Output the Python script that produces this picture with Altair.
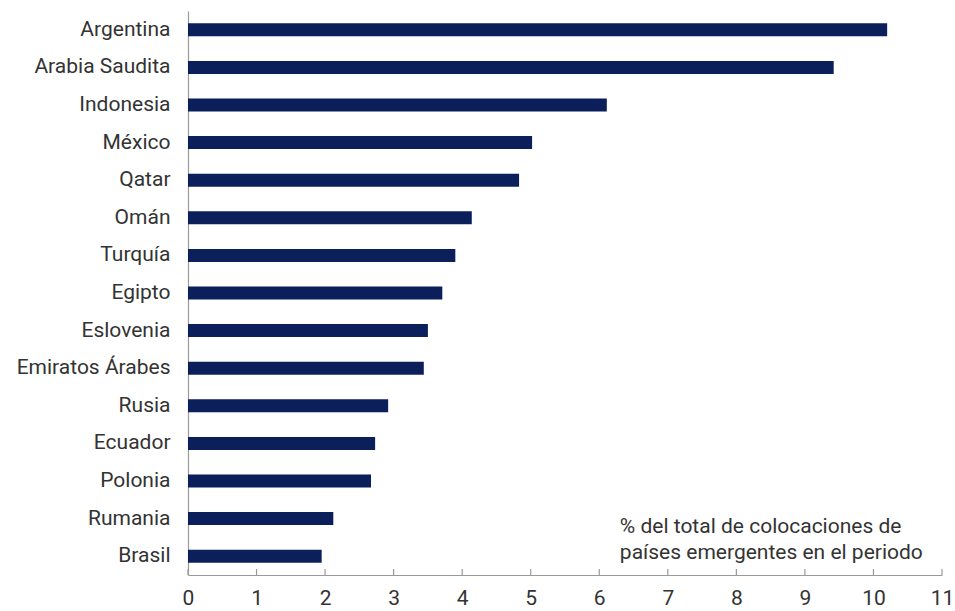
import altair as alt
import pandas as pd

countries = ["Argentina", "Arabia Saudita", "Indonesia", "México", "Qatar", "Omán",
             "Turquía", "Egipto", "Eslovenia", "Emiratos Árabes", "Rusia", "Ecuador",
             "Polonia", "Rumania", "Brasil"]
values = [10.20, 9.42, 6.11, 5.02, 4.83, 4.14, 3.90, 3.71, 3.50, 3.44, 2.92, 2.73,
          2.67, 2.12, 1.95]
tick_values = list(range(0, 12))
note_lines = ["% del total de colocaciones de", "países emergentes en el periodo"]

df = pd.DataFrame({"pais": countries, "valor": values})
ticks_df = pd.DataFrame({"t": tick_values})
note_df = pd.DataFrame({"x": [6.3], "pais": ["Brasil"], "txt": ["\n".join(note_lines)]})

FONT = "Roboto"
TXT = "#333333"
AX = "#9a9a9a"
W, H = 754, 564
FS = 21

xscale = alt.Scale(domain=[0, 11], nice=False, zero=True)
yscale = alt.Scale(domain=countries, paddingInner=0.0, paddingOuter=0.0)

bars = alt.Chart(df).mark_bar(size=13, color="#0b1f5b").encode(
    x=alt.X("valor:Q", scale=xscale,
            axis=alt.Axis(values=tick_values, format="d", title=None, ticks=False,
                          domainColor=AX, domainWidth=1.2, labelFont=FONT,
                          labelFontSize=FS, labelColor=TXT, labelPadding=12,
                          grid=False, labelFlush=False)),
    y=alt.Y("pais:N", sort=countries, scale=yscale,
            axis=alt.Axis(title=None, ticks=False, domainColor=AX, domainWidth=1.2,
                          labelFont=FONT, labelFontSize=FS, labelColor=TXT,
                          labelPadding=18)),
)

tick_marks = alt.Chart(ticks_df).mark_rule(color=AX, strokeWidth=1.2).encode(
    x=alt.X("t:Q", scale=xscale),
    y=alt.value(H - 6),
    y2=alt.value(H),
)

note = alt.Chart(note_df).mark_text(align="left", baseline="middle", font=FONT,
                                    fontSize=FS, color=TXT, lineHeight=26,
                                    lineBreak="\n", dy=-29).encode(
    x=alt.X("x:Q", scale=xscale),
    y=alt.Y("pais:N", sort=countries, scale=yscale),
    text="txt:N",
)

chart = alt.layer(bars, tick_marks, note).properties(
    width=W, height=H,
    autosize=alt.AutoSizeParams(type="none"),
    padding={"left": 188, "top": 11, "right": 13, "bottom": 36},
    background="white",
).configure_view(stroke="transparent", strokeWidth=0)

chart.save("out.html", embed_options={"renderer": "svg", "actions": False})
